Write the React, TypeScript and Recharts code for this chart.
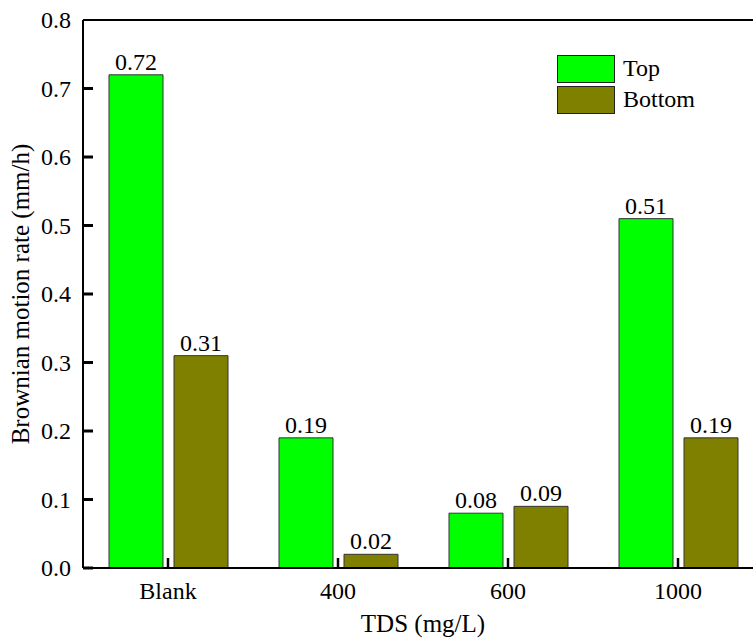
import { BarChart, Bar, XAxis, YAxis, Legend, LabelList, ReferenceLine } from 'recharts';

const categories = ['Blank', '400', '600', '1000'];
const topValues = [0.72, 0.19, 0.08, 0.51];
const bottomValues = [0.31, 0.02, 0.09, 0.19];
const yTicks = [0, 0.1, 0.2, 0.3, 0.4, 0.5, 0.6, 0.7, 0.8];
const seriesOrder = ['Top', 'Bottom'];

const FONT = "'Times New Roman', 'Liberation Serif', serif";
const TOP_COLOR = '#00ff00';
const BOTTOM_COLOR = '#808000';

const data = categories.map((name, i) => ({
  name,
  Top: topValues[i],
  Bottom: bottomValues[i],
}));

function renderLegend(props: any) {
  const items = [...(props.payload ?? [])].sort(
    (a: any, b: any) => seriesOrder.indexOf(a.value) - seriesOrder.indexOf(b.value)
  );
  return (
    <div style={{ fontFamily: FONT, fontSize: 24, color: '#000' }}>
      {items.map((item: any) => (
        <div key={item.value} style={{ display: 'flex', alignItems: 'center', height: 31 }}>
          <div
            style={{
              width: 56,
              height: 26,
              background: item.color,
              border: '1px solid #222',
              marginRight: 8,
            }}
          />
          <span>{item.value}</span>
        </div>
      ))}
    </div>
  );
}

function YTick(props: any) {
  const { x, y, payload } = props;
  return (
    <text x={x} y={y} textAnchor="end" dominantBaseline="central" fontSize={24} fontFamily={FONT} fill="#000">
      {Number(payload.value).toFixed(1)}
    </text>
  );
}

// short inward tick on the left axis, drawn from the reference line's start
function InwardTick(props: any) {
  const { x1, y1 } = props;
  return <line x1={x1} x2={x1 + 10} y1={y1} y2={y1} stroke="#000" strokeWidth={3} />;
}

// x tick: short inward tick at the category centre plus label below
function XTick(props: any) {
  const { x, y, payload } = props;
  const axisY = y - 14;
  return (
    <g>
      <line x1={x} x2={x} y1={axisY} y2={axisY - 10} stroke="#000" strokeWidth={2.5} />
      <text x={x} y={y} dy="0.71em" textAnchor="middle" fontSize={24} fontFamily={FONT} fill="#000">
        {payload.value}
      </text>
    </g>
  );
}

export default function App() {
  return (
    <div style={{ position: 'absolute', left: 0, top: 0, width: 753, height: 642, overflow: 'hidden', background: '#fff' }}>
      <BarChart
        width={770}
        height={642}
        data={data}
        margin={{ top: 20, right: 7, left: 0, bottom: 0 }}
        barSize={54}
        barGap={11}
      >
        <Legend
          layout="vertical"
          align="center"
          verticalAlign="middle"
          content={renderLegend}
          wrapperStyle={{ position: 'absolute', left: 557, top: 53, width: 'auto' }}
        />
        <Bar dataKey="Top" fill={TOP_COLOR} stroke="#333" strokeWidth={1} isAnimationActive={false}>
          <LabelList dataKey="Top" position="top" offset={5} fontSize={24} fontFamily={FONT} fill="#000" />
        </Bar>
        <Bar dataKey="Bottom" fill={BOTTOM_COLOR} stroke="#333" strokeWidth={1} isAnimationActive={false}>
          <LabelList dataKey="Bottom" position="top" offset={5} fontSize={24} fontFamily={FONT} fill="#000" />
        </Bar>
        <XAxis
          dataKey="name"
          height={74}
          tickSize={0}
          tickMargin={14}
          axisLine={{ stroke: '#000', strokeWidth: 2 }}
          tickLine={false}
          tick={<XTick />}
          label={{
            content: (p: any) => {
              const vb = p.viewBox;
              return (
                <text x={vb.x + vb.width / 2} y={632} textAnchor="middle" fontSize={25} fontFamily={FONT} fill="#000">
                  TDS (mg/L)
                </text>
              );
            },
          }}
        />
        <YAxis
          width={83}
          domain={[0, 0.8]}
          ticks={yTicks}
          interval={0}
          tickSize={0}
          tickMargin={12}
          axisLine={{ stroke: '#000', strokeWidth: 2 }}
          tickLine={false}
          tick={<YTick />}
          label={{
            content: (p: any) => {
              const vb = p.viewBox;
              const cy = vb.y + vb.height / 2;
              return (
                <text
                  x={20}
                  y={cy}
                  transform={`rotate(-90, 20, ${cy})`}
                  textAnchor="middle"
                  dominantBaseline="central"
                  fontSize={25}
                  fontFamily={FONT}
                  fill="#000"
                >
                  Brownian motion rate (mm/h)
                </text>
              );
            },
          }}
        />
        {yTicks.slice(0, -1).map(v => (
          <ReferenceLine key={v} y={v} shape={<InwardTick />} />
        ))}
        <ReferenceLine y={0.8} stroke="#000" strokeWidth={2} />
      </BarChart>
    </div>
  );
}
